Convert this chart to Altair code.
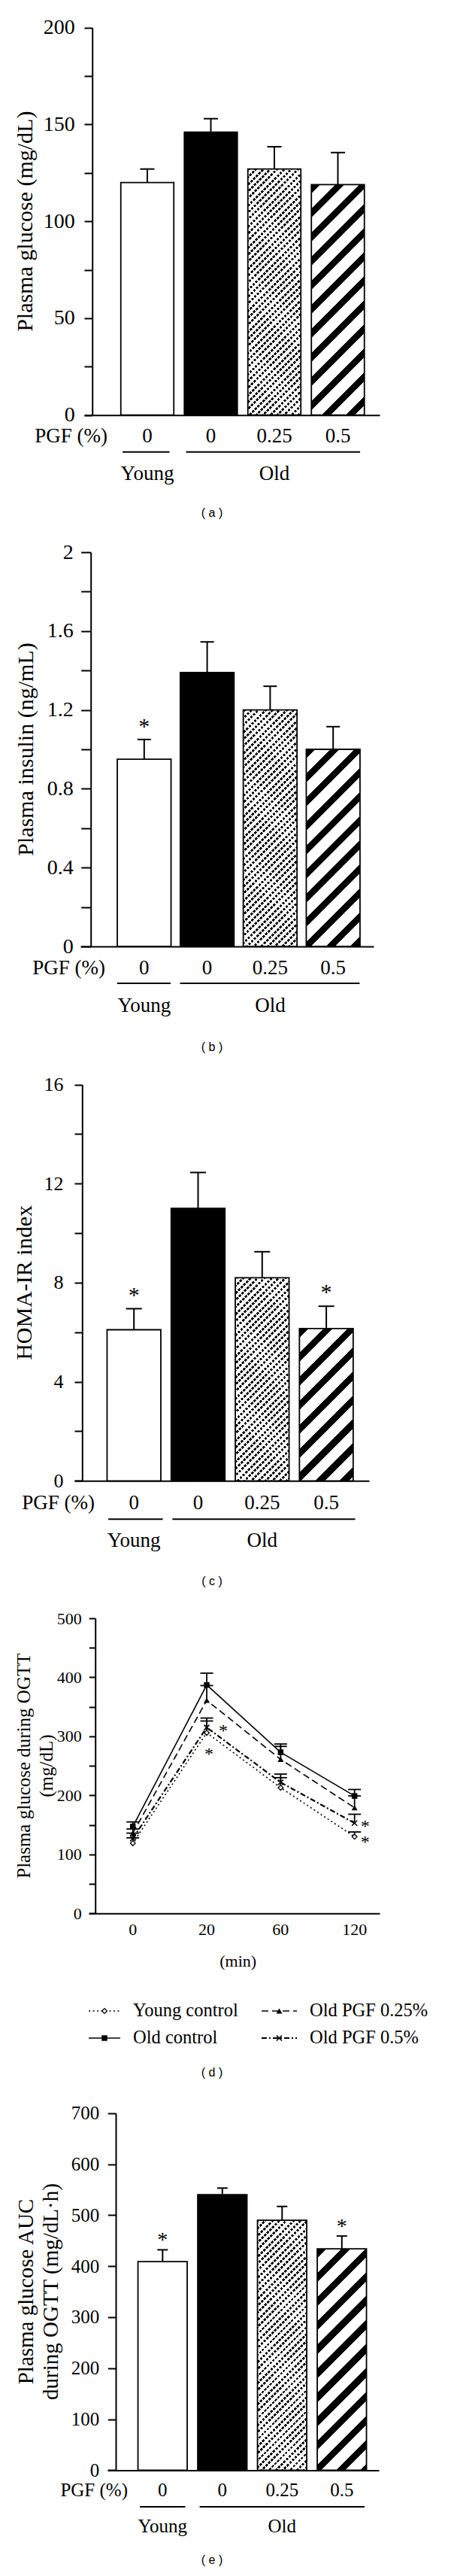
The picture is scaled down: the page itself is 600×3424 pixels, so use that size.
import math
import altair as alt
import pandas as pd

# ---------------- values ----------------
pgf_levels = ["0", "0", "0.25", "0.5"]
age_groups = ["Young", "Old", "Old", "Old"]

glucose_mean = [120, 146, 127, 119]
glucose_sem = [7, 7, 11.5, 16.5]
glucose_star = [0, 0, 0, 0]

insulin_mean = [0.95, 1.39, 1.20, 1.00]
insulin_sem = [0.10, 0.155, 0.12, 0.115]
insulin_star = [1, 0, 0, 0]

homa_mean = [6.1, 11.0, 8.2, 6.15]
homa_sem = [0.85, 1.45, 1.05, 0.9]
homa_star = [1, 0, 0, 1]

auc_mean = [409, 540, 490, 434]
auc_sem = [23, 13, 27, 25]
auc_star = [1, 0, 0, 1]

ogtt_times = ["0", "20", "60", "120"]
ogtt_names = ["Young control", "Old control", "Old PGF 0.25%", "Old PGF 0.5%"]
ogtt_young = [119, 306, 213, 130]
ogtt_young_sem = [9, 20, 17, 8]
ogtt_old = [147, 387, 273, 199]
ogtt_old_sem = [8, 20, 14, 11]
ogtt_pgf025 = [136, 361, 261, 179]
ogtt_pgf025_sem = [7, 25, 22, 20]
ogtt_pgf05 = [127, 315, 222, 153]
ogtt_pgf05_sem = [9, 16, 14, 15]
ogtt_star_series = [3, 0, 3, 0]   # index into ogtt_names
ogtt_star_time = [1, 1, 3, 3]     # index into ogtt_times

# ---------------- layout & style ----------------
W = 584
SERIF = "Liberation Serif"
SANS = "Liberation Sans"
CAPTION_X = 274


def stripes(w, h, angle, period, duty, on, off, phase=0.0):
    """Linear gradient (bounding-box units) producing straight stripes."""
    a = math.radians(angle)
    gx, gy = w * math.sin(a), h * math.cos(a)
    corners = [(0, 0), (1, 0), (0, 1), (1, 1)]
    proj = [u * gx + v * gy for u, v in corners]
    i0 = proj.index(min(proj))
    L = max(proj) - proj[i0]
    k = L / (gx * gx + gy * gy)
    u0, v0 = corners[i0]
    stops = []

    def add(o, c):
        stops.append({"offset": round(min(max(o / L, 0.0), 1.0), 5), "color": c})

    s = -phase * period
    while s < L:
        m = s + duty * period
        e = s + period
        if m > 0:
            add(max(s, 0), on)
            add(min(m, L), on)
        if e > 0 and m < L:
            add(max(m, 0), off)
            add(min(e, L), off)
        s = e
    return {"gradient": "linear", "x1": u0, "y1": v0,
            "x2": round(u0 + k * gx, 5), "y2": round(v0 + k * gy, 5), "stops": stops}


BAR_LAYOUT = {
    "a": dict(H=692, ymax=200, minor=25, major=50, y0=543.7, ytop=28.7, ax=114.7, xl=104, xr=497,
              c1=188, step=84.5, bw=70.5, cap=19, tick=10.7, lpad=12.7, lfont=28,
              title=["Plasma glucose (mg/dL)"], tx=[26], tfont=30,
              pgf_y=572, line_y=592.7, grp_y=622, cap_y=673.7, pgf_right=135, tfs=27,
              u0=0.39, u1=0.35, star_off=23, star_font=30, caption="( a )"),
    "b": dict(H=710, ymax=2, minor=0.2, major=0.4, y0=558, ytop=34, ax=112.7, xl=99, xr=489,
              c1=183.8, step=83.8, bw=71.5, cap=18, tick=13, lpad=10.5, lfont=28,
              title=["Plasma insulin (ng/mL)"], tx=[26.5], tfont=30,
              pgf_y=587.4, line_y=607, grp_y=637, cap_y=691.5, pgf_right=132, tfs=27,
              u0=0.43, u1=0.42, star_off=23, star_font=30, caption="( b )"),
    "c": dict(H=710, ymax=16, minor=2, major=4, y0=558.3, ytop=31.6, ax=101.3, xl=91, xr=483,
              c1=170.2, step=85.3, bw=71.5, cap=21, tick=10.3, lpad=15, lfont=26,
              title=["HOMA-IR index"], tx=[25], tfont=30,
              pgf_y=588.3, line_y=609.3, grp_y=638.3, cap_y=691.7, pgf_right=118, tfs=27,
              u0=0.40, u1=0.45, star_off=24, star_font=30, caption="( c )"),
    "e": dict(H=638, ymax=700, minor=100, major=100, y0=513.4, ytop=38.7, ax=146, xl=135, xr=496,
              c1=208.3, step=79.5, bw=65.5, cap=14, tick=10.7, lpad=11.5, lfont=25,
              title=["Plasma glucose AUC", "during OGTT (mg/dL\u00b7h)"], tx=[26.7, 60], tfont=29,
              pgf_y=540.4, line_y=561.9, grp_y=587.7, cap_y=633, pgf_right=162, tfs=25,
              u0=0.38, u1=0.38, star_off=18, star_font=28, caption="( e )"),
}

OGTT_LAYOUT = dict(H=650, ymax=500, minor=50, major=100, y0=423.3, ytop=31, ax=118.7, xl=110, xr=497,
                   c0=168.7, step=98.33, cap=17, tick=8.4, lpad=10, lfont=22,
                   title=["Plasma glucose during OGTT", "(mg/dL)"], tx=[23.7, 53.7], tfont=25,
                   xlab_y=445, xlab_font=22, unit_y=487, unit_x=308.7,
                   # (segment start, row y, segment length, text start)
                   leg=[(110, 553, 42, 169), (110, 589, 42, 169), (340, 553, 47, 404), (340, 589, 47, 404)],
                   leg_font=24.5, cap_y=635, caption="( d )",
                   star_font=24, star_dx=[22, 3, 14, 14], star_dy=[0, 24, 0, 3])

OGTT_STYLE = [
    dict(dash=[2, 3.5], width=1.6, shape="diamond", filled=True, fill="white", size=45, sw=1.3),
    dict(dash=None, width=1.6, shape="square", filled=True, fill="black", size=56, sw=0),
    dict(dash=[9, 5], width=1.6, shape="triangle-up", filled=True, fill="black", size=64, sw=0),
    dict(dash=[7, 3, 2, 3], width=2.2, shape="M-1,-1L1,1M-1,1L1,-1", filled=False, fill=None, size=50, sw=1.6),
]


def y_axis(g):
    vals = [round(i * g["minor"], 6) for i in range(int(round(g["ymax"] / g["minor"])) + 1)]
    M = g["major"]
    return alt.Axis(
        orient="left", offset=-g["ax"], values=vals,
        labelExpr=f"abs(datum.value / {M} - round(datum.value / {M})) < 1e-6 ? format(datum.value, '~g') : ''",
        title=None, grid=False, domain=True, domainColor="black", domainWidth=2,
        ticks=True, tickColor="black", tickWidth=2, tickSize=g["tick"],
        labelFont=SERIF, labelFontSize=g["lfont"], labelColor="black",
        labelPadding=g["lpad"], labelOverlap=False, labelFlush=False, labelBound=False)


def x_axis(g):
    return alt.Axis(orient="bottom", offset=g["y0"] - g["H"], title=None, labels=False, ticks=False,
                    grid=False, domain=True, domainColor="black", domainWidth=2)


def text_layer(label, x, y, font, size, **kw):
    return alt.Chart(pd.DataFrame({"label": [label]})).mark_text(
        font=font, fontSize=size, color="black", **kw).encode(
        x=alt.value(x), y=alt.value(y), text="label:N")


def title_layers(g):
    out = []
    yc = (g["y0"] + g["ytop"]) / 2
    for line, x in zip(g["title"], g["tx"]):
        out.append(text_layer(line, x, yc, SERIF, g["tfont"], angle=270, align="center", baseline="middle"))
    return out


def bar_panel(mean, sem, star, g):
    n = len(mean)
    df = pd.DataFrame({"idx": list(range(1, n + 1)), "mean": mean, "sem": sem,
                       "pgf": pgf_levels, "star": star})
    step = g["step"]
    cn = g["c1"] + (n - 1) * step
    lo = 1 - (g["c1"] - g["xl"]) / step
    hi = n + (g["xr"] - cn) / step
    xs = alt.Scale(domain=[lo, hi], range=[g["xl"], g["xr"]], nice=False, zero=False)
    ys = alt.Scale(domain=[0, g["ymax"]], range=[g["y0"], g["ytop"]], nice=False, zero=True)
    xa, ya = x_axis(g), y_axis(g)

    def X(f):
        return alt.X(f"{f}:Q", scale=xs, axis=xa)

    def Y(f):
        return alt.Y(f"{f}:Q", scale=ys, axis=ya)

    hw = g["bw"] / 2 / step
    cw = g["cap"] / 2 / step
    plot_h = g["y0"] - g["ytop"]

    base = alt.Chart(df).transform_calculate(
        xlo=f"datum.idx - {hw}", xhi=f"datum.idx + {hw}",
        top="datum.mean + datum.sem",
        clo=f"datum.idx - {cw}", chi=f"datum.idx + {cw}")

    def rect(b, **kw):
        return b.mark_rect(**kw).encode(x=X("xlo"), x2="xhi:Q", y=Y("mean"), y2=alt.datum(0))

    layers = []
    styles = ["white", "black", "fine", "bold"]
    for i in range(n):
        b = base.transform_filter(f"datum.idx === {i + 1}")
        h = mean[i] / g["ymax"] * plot_h
        st = styles[i]
        if st == "fine":
            layers.append(rect(b, fill=stripes(g["bw"], h, 45, 6.6, 0.42, "#000000", "#ffffff"), strokeWidth=0))
            layers.append(rect(b, fill=stripes(g["bw"], h, 135, 5.0, 0.34, "#ffffff", "rgba(255,255,255,0)"),
                               strokeWidth=0))
        elif st == "bold":
            layers.append(rect(b, fill=stripes(g["bw"], h, 45, 22.6, 0.38, "#000000", "#ffffff"), strokeWidth=0))
        else:
            layers.append(rect(b, fill=st, strokeWidth=0))

    # outlines
    layers.append(rect(base, fillOpacity=0, stroke="black", strokeWidth=1.8))

    # error bars (upper only)
    layers.append(base.mark_rule(color="black", strokeWidth=2).encode(x=X("idx"), y=Y("mean"), y2="top:Q"))
    layers.append(base.mark_rule(color="black", strokeWidth=2).encode(x=X("clo"), x2="chi:Q", y=Y("top")))

    # significance asterisks
    if any(star):
        layers.append(base.transform_filter("datum.star == 1").mark_text(
            text="*", font=SERIF, fontSize=g["star_font"], color="black", baseline="middle",
            dy=-g["star_off"] + 0.2 * g["star_font"]).encode(x=X("idx"), y=Y("top")))

    # PGF row
    layers.append(base.mark_text(font=SERIF, fontSize=g["tfs"], color="black", baseline="middle").encode(
        x=X("idx"), y=alt.value(g["pgf_y"]), text="pgf:N"))
    layers.append(text_layer("PGF (%)", g["pgf_right"], g["pgf_y"], SERIF, g["tfs"],
                             align="right", baseline="middle"))

    # age groups
    names, first, last = [], [], []
    for i, a in enumerate(age_groups):
        if names and names[-1] == a:
            last[-1] = i + 1
        else:
            names.append(a)
            first.append(i + 1)
            last.append(i + 1)
    gdf = pd.DataFrame({"grp": names, "first": first, "last": last})
    gb = alt.Chart(gdf).transform_calculate(
        lo=f"datum.first - {g['u0']}", hi=f"datum.last + {g['u1']}", mid="(datum.first + datum.last) / 2")
    layers.append(gb.mark_rule(color="black", strokeWidth=2).encode(
        x=X("lo"), x2="hi:Q", y=alt.value(g["line_y"])))
    layers.append(gb.mark_text(font=SERIF, fontSize=g["tfs"], color="black", baseline="middle").encode(
        x=X("mid"), y=alt.value(g["grp_y"]), text="grp:N"))

    layers += title_layers(g)
    layers.append(text_layer(g["caption"], CAPTION_X, g["cap_y"], SANS, 16, baseline="middle"))
    return alt.layer(*layers).properties(width=W, height=g["H"])


def ogtt_panel(g):
    series = [(ogtt_young, ogtt_young_sem), (ogtt_old, ogtt_old_sem),
              (ogtt_pgf025, ogtt_pgf025_sem), (ogtt_pgf05, ogtt_pgf05_sem)]
    n = len(ogtt_times)
    step = g["step"]
    lo = -(g["c0"] - g["xl"]) / step
    hi = (n - 1) + (g["xr"] - (g["c0"] + (n - 1) * step)) / step
    xs = alt.Scale(domain=[lo, hi], range=[g["xl"], g["xr"]], nice=False, zero=False)
    ys = alt.Scale(domain=[0, g["ymax"]], range=[g["y0"], g["ytop"]], nice=False, zero=True)
    xa, ya = x_axis(g), y_axis(g)

    def X(f):
        return alt.X(f"{f}:Q", scale=xs, axis=xa)

    def Y(f):
        return alt.Y(f"{f}:Q", scale=ys, axis=ya)

    cw = g["cap"] / 2 / step

    rows = []
    for name, (m, s) in zip(ogtt_names, series):
        for t in range(n):
            rows.append({"name": name, "t": t, "mean": m[t], "sem": s[t]})
    df = pd.DataFrame(rows)
    base = alt.Chart(df).transform_calculate(
        top="datum.mean + datum.sem", clo=f"datum.t - {cw}", chi=f"datum.t + {cw}")

    layers = []
    for k, name in enumerate(ogtt_names):
        st = OGTT_STYLE[k]
        kw = dict(color="black", strokeWidth=st["width"])
        if st["dash"]:
            kw["strokeDash"] = st["dash"]
        layers.append(base.transform_filter(f"datum.name === '{name}'").mark_line(**kw).encode(
            x=X("t"), y=Y("mean")))

    layers.append(base.mark_rule(color="black", strokeWidth=1.8).encode(x=X("t"), y=Y("mean"), y2="top:Q"))
    layers.append(base.mark_rule(color="black", strokeWidth=1.8).encode(x=X("clo"), x2="chi:Q", y=Y("top")))

    def point_kw(st):
        kw = dict(shape=st["shape"], size=st["size"], filled=st["filled"], opacity=1)
        if st["filled"]:
            kw["fill"] = st["fill"]
        if st["sw"] > 0:
            kw["stroke"] = "black"
            kw["strokeWidth"] = st["sw"]
        return kw

    for k, name in enumerate(ogtt_names):
        st = OGTT_STYLE[k]
        layers.append(base.transform_filter(f"datum.name === '{name}'").mark_point(**point_kw(st)).encode(
            x=X("t"), y=Y("mean")))

    # asterisks
    for i, (k, t) in enumerate(zip(ogtt_star_series, ogtt_star_time)):
        sdf = pd.DataFrame({"t": [t], "v": [series[k][0][t]]})
        layers.append(alt.Chart(sdf).mark_text(
            text="*", font=SERIF, fontSize=g["star_font"], color="black", baseline="middle",
            dx=g["star_dx"][i], dy=g["star_dy"][i] + 0.2 * g["star_font"]).encode(x=X("t"), y=Y("v")))

    # x labels
    tdf = pd.DataFrame({"t": list(range(n)), "lab": ogtt_times})
    layers.append(alt.Chart(tdf).mark_text(font=SERIF, fontSize=g["xlab_font"], color="black",
                                            baseline="middle").encode(
        x=X("t"), y=alt.value(g["xlab_y"]), text="lab:N"))
    layers.append(text_layer("(min)", g["unit_x"], g["unit_y"], SERIF, g["xlab_font"], baseline="middle"))

    # legend
    for k, name in enumerate(ogtt_names):
        st = OGTT_STYLE[k]
        x0, yr, seg, tx = g["leg"][k]
        kw = dict(color="black", strokeWidth=st["width"])
        if st["dash"]:
            kw["strokeDash"] = st["dash"]
        ldf = pd.DataFrame({"label": [name]})
        layers.append(alt.Chart(ldf).mark_rule(**kw).encode(
            x=alt.value(x0), x2=alt.value(x0 + seg), y=alt.value(yr)))
        layers.append(alt.Chart(ldf).mark_point(**point_kw(st)).encode(
            x=alt.value(x0 + seg / 2), y=alt.value(yr)))
        layers.append(alt.Chart(ldf).mark_text(font=SERIF, fontSize=g["leg_font"], color="black",
                                               align="left", baseline="middle").encode(
            x=alt.value(tx), y=alt.value(yr), text="label:N"))

    layers += title_layers(g)
    layers.append(text_layer(g["caption"], CAPTION_X, g["cap_y"], SANS, 16, baseline="middle"))
    return alt.layer(*layers).properties(width=W, height=g["H"])


panel_a = bar_panel(glucose_mean, glucose_sem, glucose_star, BAR_LAYOUT["a"])
panel_b = bar_panel(insulin_mean, insulin_sem, insulin_star, BAR_LAYOUT["b"])
panel_c = bar_panel(homa_mean, homa_sem, homa_star, BAR_LAYOUT["c"])
panel_d = ogtt_panel(OGTT_LAYOUT)
panel_e = bar_panel(auc_mean, auc_sem, auc_star, BAR_LAYOUT["e"])

chart = alt.vconcat(panel_a, panel_b, panel_c, panel_d, panel_e, spacing=0, bounds="flush").properties(
    padding=0).configure_view(strokeWidth=0)

chart.save("out.html", embed_options={"renderer": "svg", "actions": False})
